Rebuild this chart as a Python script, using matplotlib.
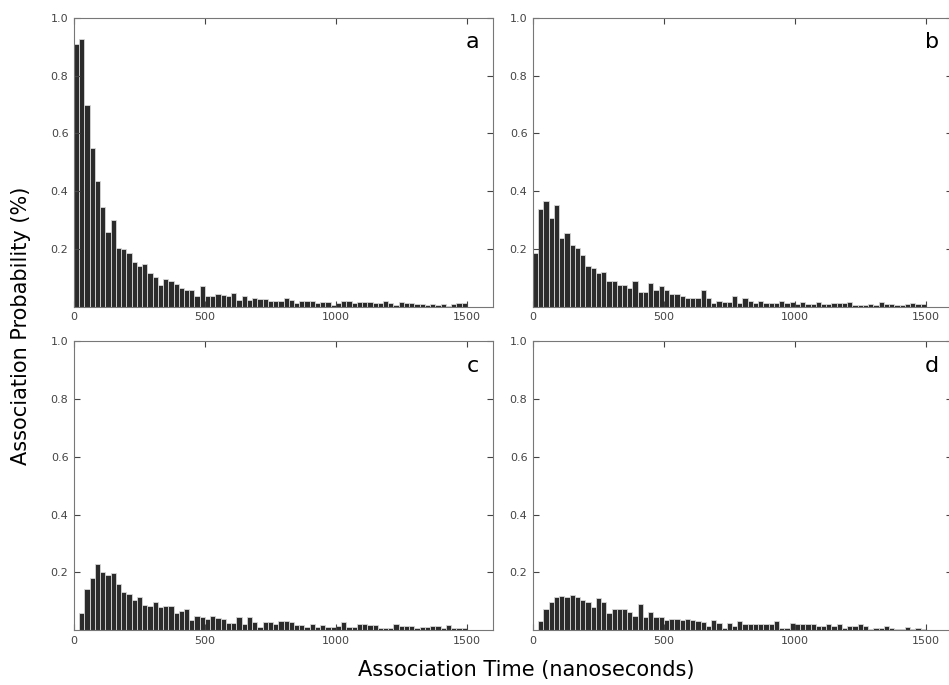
import matplotlib
matplotlib.use('Agg')
import matplotlib.pyplot as plt
import numpy as np

bin_width = 20
bin_starts = np.arange(0, 1500, bin_width)

prob_a = [0.91, 0.925, 0.70, 0.548, 0.436, 0.345, 0.258, 0.30, 0.202, 0.199,
          0.188, 0.154, 0.14, 0.147, 0.116, 0.102, 0.076, 0.097, 0.09, 0.079,
          0.064, 0.057, 0.059, 0.039, 0.071, 0.039, 0.037, 0.043, 0.042, 0.039,
          0.049, 0.025, 0.037, 0.023, 0.03, 0.027, 0.027, 0.021, 0.02, 0.021,
          0.029, 0.025, 0.015, 0.021, 0.02, 0.02, 0.015, 0.017, 0.017, 0.008,
          0.015, 0.021, 0.02, 0.014, 0.017, 0.017, 0.017, 0.015, 0.014, 0.022,
          0.013, 0.008, 0.016, 0.012, 0.012, 0.009, 0.009, 0.008, 0.01, 0.006,
          0.011, 0.004, 0.011, 0.012, 0.012]
prob_b = [0.187, 0.34, 0.368, 0.309, 0.351, 0.24, 0.254, 0.214, 0.203, 0.181,
          0.142, 0.133, 0.118, 0.121, 0.089, 0.09, 0.074, 0.076, 0.064, 0.09,
          0.051, 0.053, 0.082, 0.058, 0.071, 0.059, 0.046, 0.045, 0.039, 0.032,
          0.032, 0.029, 0.059, 0.029, 0.014, 0.02, 0.018, 0.018, 0.036, 0.014,
          0.031, 0.02, 0.014, 0.022, 0.013, 0.012, 0.012, 0.02, 0.015, 0.016,
          0.01, 0.017, 0.01, 0.01, 0.016, 0.009, 0.01, 0.014, 0.014, 0.014,
          0.016, 0.008, 0.008, 0.006, 0.01, 0.007, 0.016, 0.009, 0.01, 0.008,
          0.006, 0.01, 0.013, 0.011, 0.009]
prob_c = [0.0, 0.06, 0.142, 0.181, 0.228, 0.202, 0.19, 0.198, 0.16, 0.133,
          0.126, 0.104, 0.115, 0.087, 0.083, 0.099, 0.08, 0.082, 0.084, 0.06,
          0.066, 0.075, 0.037, 0.048, 0.045, 0.038, 0.048, 0.043, 0.04, 0.024,
          0.025, 0.044, 0.022, 0.044, 0.03, 0.012, 0.028, 0.03, 0.022, 0.031,
          0.033, 0.027, 0.017, 0.017, 0.01, 0.02, 0.012, 0.017, 0.01, 0.012,
          0.013, 0.03, 0.012, 0.012, 0.022, 0.022, 0.018, 0.018, 0.009, 0.006,
          0.009, 0.02, 0.014, 0.014, 0.014, 0.008, 0.012, 0.012, 0.016, 0.014,
          0.007, 0.018, 0.006, 0.006, 0.009]
prob_d = [0.0, 0.031, 0.072, 0.096, 0.115, 0.12, 0.115, 0.123, 0.115, 0.106,
          0.096, 0.081, 0.111, 0.096, 0.058, 0.075, 0.075, 0.073, 0.063, 0.05,
          0.089, 0.045, 0.063, 0.045, 0.045, 0.037, 0.04, 0.04, 0.037, 0.04,
          0.035, 0.033, 0.029, 0.014, 0.037, 0.025, 0.009, 0.025, 0.014, 0.031,
          0.021, 0.02, 0.02, 0.02, 0.022, 0.022, 0.031, 0.006, 0.006, 0.024,
          0.021, 0.021, 0.02, 0.02, 0.015, 0.014, 0.023, 0.016, 0.02, 0.009,
          0.013, 0.015, 0.02, 0.013, 0.005, 0.007, 0.009, 0.013, 0.008, 0.005,
          0.005, 0.01, 0.005, 0.009, 0.005]

panels = [('a', prob_a), ('b', prob_b), ('c', prob_c), ('d', prob_d)]
positions = [[0.078, 0.552, 0.4415, 0.422], [0.5616, 0.552, 0.4415, 0.422],
             [0.078, 0.080, 0.4415, 0.422], [0.5616, 0.080, 0.4415, 0.422]]

fig = plt.figure(figsize=(9.49, 6.85), dpi=100)
for (letter, vals), pos in zip(panels, positions):
    ax = fig.add_axes(pos)
    ax.bar(bin_starts, vals, width=bin_width, align='edge',
           color='#2b2b2b', edgecolor='#d8d8d8', linewidth=0.6)
    ax.set_xlim(0, 1600)
    ax.set_ylim(0, 1.0)
    ax.set_xticks([0, 500, 1000, 1500])
    ax.set_yticks([0.2, 0.4, 0.6, 0.8, 1.0])
    ax.tick_params(direction='in', top=True, right=True, labelsize=8,
                   colors='#444444', length=4, pad=4)
    for s in ax.spines.values():
        s.set_color('#777777')
    ax.text(0.952, 0.915, letter, transform=ax.transAxes, fontsize=16,
            ha='center', va='center')

fig.text(0.555, 0.022, 'Association Time (nanoseconds)', fontsize=15,
         ha='center', va='center')
fig.text(0.022, 0.525, 'Association Probability (%)', fontsize=15,
         ha='center', va='center', rotation=90)

fig.savefig('out.png', dpi=100)
